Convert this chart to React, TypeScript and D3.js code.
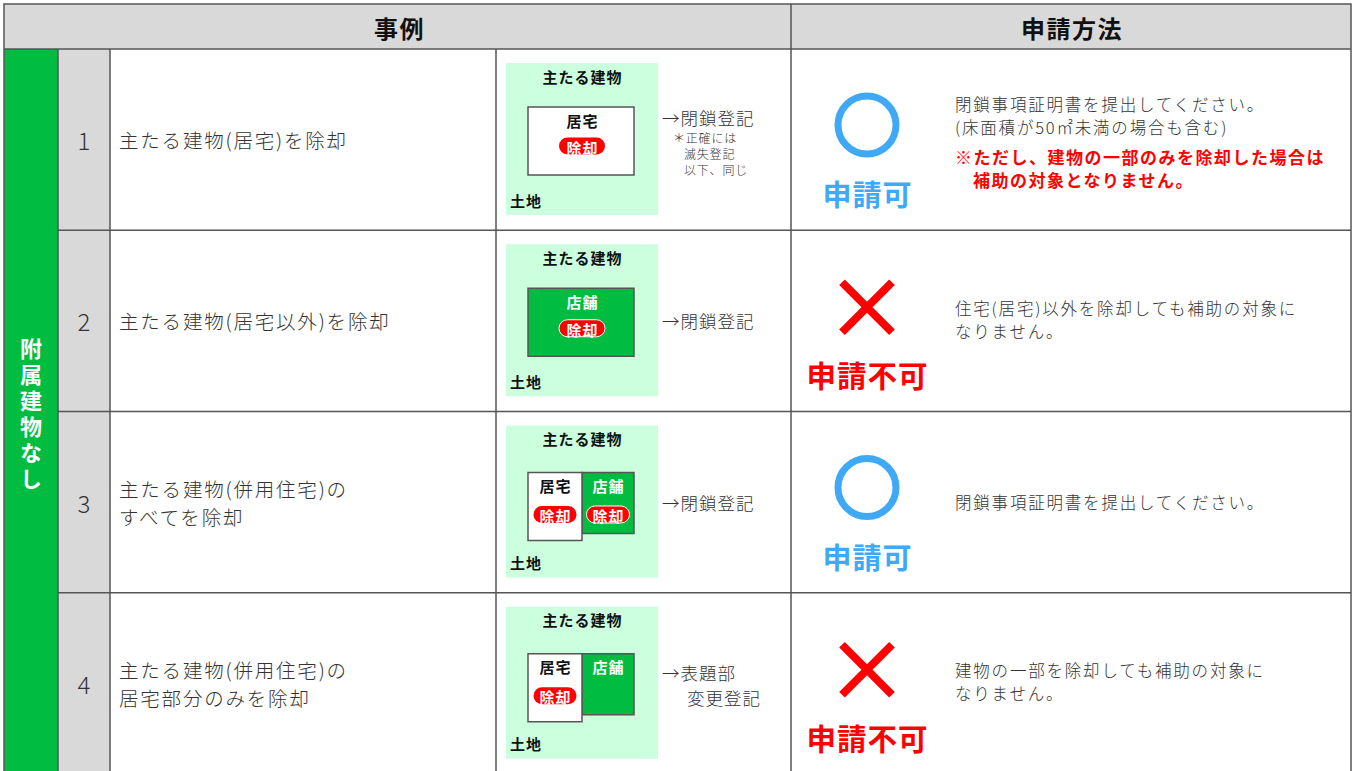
import React from "react";
import * as d3 from "d3";

const headers = ["事例", "申請方法"];
const sideLabel = "附属建物なし";
const caseNumbers = ["1", "2", "3", "4"];
const descriptions = [
  ["主たる建物(居宅)を除却"],
  ["主たる建物(居宅以外)を除却"],
  ["主たる建物(併用住宅)の", "すべてを除却"],
  ["主たる建物(併用住宅)の", "居宅部分のみを除却"],
];
// building layout: "house" = 居宅 only, "shop" = 店舗 only, "mixed" = both
const buildingTypes = ["house", "shop", "mixed", "mixedPartial"];
const registrations = [
  ["→閉鎖登記"],
  ["→閉鎖登記"],
  ["→閉鎖登記"],
  ["→表題部", "変更登記"],
];
const footnote = ["＊正確には", "滅失登記", "以下、同じ"];
const allowed = [true, false, true, false];
const notes = [
  ["閉鎖事項証明書を提出してください。", "(床面積が50㎡未満の場合も含む)"],
  ["住宅(居宅)以外を除却しても補助の対象に", "なりません。"],
  ["閉鎖事項証明書を提出してください。"],
  ["建物の一部を除却しても補助の対象に", "なりません。"],
];
const warning = ["※ただし、建物の一部のみを除却した場合は", "補助の対象となりません。"];

const W = 1356;
const H = 771;
const colEdges = [4, 58, 110, 496, 791, 1351];
const headerTop = 4;
const headerBottom = 49;
const FONT = "'Noto Sans CJK JP', 'Noto Sans', sans-serif";
const GREEN = "#00bd42";
const LIGHT_GREEN = "#ccffdd";
const GRAY = "#d9d9d9";
const BORDER = "#555";
const TEXT = "#333";
const BLUE = "#3fa9f5";
const RED = "#ff0000";

const rowY = d3.scaleLinear().domain([0, 4]).range([headerBottom, 774]);

function Pill({ cx, cy, w, outline }: { cx: number; cy: number; w: number; outline?: boolean }) {
  return (
    <g>
      <rect x={cx - w / 2} y={cy - 8.5} width={w} height={17} rx={8.5} fill={RED}
        stroke={outline ? "#fff" : "none"} strokeWidth={1} />
      <text x={cx + 0.5} y={cy + 1} textAnchor="middle" dominantBaseline="central" fill="#fff"
        fontSize={15} fontWeight={700} letterSpacing={1} fontFamily={FONT}>除却</text>
    </g>
  );
}

function Diagram({ type, top }: { type: string; top: number }) {
  const gx = 506, gw = 152;
  const gy = top + 14, gh = 152;
  const bx = 528, bw = 106, by = top + 58;
  const label = (x: number, y: number, t: string, fill = "#111", anchor = "middle") => (
    <text x={anchor === "middle" ? x + 0.5 : x} y={y} textAnchor={anchor} dominantBaseline="central" fontSize={15}
      fontWeight={700} letterSpacing={1} fill={fill} fontFamily={FONT}>{t}</text>
  );
  return (
    <g>
      <rect x={gx} y={gy} width={gw} height={gh} fill={LIGHT_GREEN} />
      {label(582, gy + 13, "主たる建物")}
      {label(510, gy + 137, "土地", "#111", "start")}
      {type === "house" && (
        <g>
          <rect x={bx} y={by} width={bw} height={68} fill="#fff" stroke={BORDER} strokeWidth={1.5} />
          {label(582, by + 13, "居宅")}
          <Pill cx={582} cy={by + 39} w={46} />
        </g>
      )}
      {type === "shop" && (
        <g>
          <rect x={bx} y={by} width={bw} height={68} fill={GREEN} stroke={BORDER} strokeWidth={1.5} />
          {label(582, by + 13, "店舗", "#fff")}
          <Pill cx={582} cy={by + 40} w={46} outline />
        </g>
      )}
      {(type === "mixed" || type === "mixedPartial") && (
        <g>
          <rect x={582} y={by + 3} width={52} height={61} fill={GREEN} stroke={BORDER} strokeWidth={1.5} />
          <rect x={bx} y={by + 3} width={54} height={68} fill="#fff" stroke={BORDER} strokeWidth={1.5} />
          {label(555, by + 16, "居宅")}
          <Pill cx={555} cy={by + 45} w={43} />
          {label(608, by + 16, "店舗", "#fff")}
          {type === "mixed" && <Pill cx={608} cy={by + 45} w={43} outline />}
        </g>
      )}
    </g>
  );
}

export default function App() {
  const [c0, c1, c2, c3, c4, c5] = colEdges;
  return (
    <svg width={W} height={H} style={{ position: "absolute", left: 0, top: 0, background: "#fff" }}
      fontFamily={FONT}>
      <rect x={0} y={0} width={W} height={H} fill="#fff" />
      {/* header */}
      <rect x={c0} y={headerTop} width={c5 - c0} height={headerBottom - headerTop} fill={GRAY} />
      <text x={(c0 + c4) / 2 + 2} y={(headerTop + headerBottom) / 2 + 1} textAnchor="middle"
        dominantBaseline="central" fontSize={24} fontWeight={700} letterSpacing={1.5} fill="#111">{headers[0]}</text>
      <text x={(c4 + c5) / 2 + 1} y={(headerTop + headerBottom) / 2 + 1} textAnchor="middle"
        dominantBaseline="central" fontSize={24} fontWeight={700} letterSpacing={1.5} fill="#111">{headers[1]}</text>
      {/* side column */}
      <rect x={c0} y={headerBottom} width={c1 - c0} height={H - headerBottom + 10} fill={GREEN} />
      <text x={(c0 + c1) / 2} y={416} textAnchor="middle" fontSize={22} fontWeight={700} fill="#fff"
        letterSpacing={4} style={{ writingMode: "vertical-rl" }}>{sideLabel}</text>
      {/* number column */}
      <rect x={c1} y={headerBottom} width={c2 - c1} height={H - headerBottom + 10} fill={GRAY} />
      {caseNumbers.map((n, i) => {
        const top = rowY(i), bot = rowY(i + 1), mid = (top + bot) / 2;
        const ok = allowed[i];
        return (
          <g key={i}>
            <text x={(c1 + c2) / 2} y={mid} textAnchor="middle" dominantBaseline="central"
              fontSize={24} fontWeight={300} fill={TEXT}>{n}</text>
            {descriptions[i].map((line, j) => (
              <text key={j} x={119} y={mid + (j - (descriptions[i].length - 1) / 2) * 28}
                dominantBaseline="central" fontSize={19.5} fontWeight={300} letterSpacing={1.8}
                fill={TEXT}>{line}</text>
            ))}
            <Diagram type={buildingTypes[i]} top={top} />
            {registrations[i].length === 1 ? (
              <text x={662} y={i === 0 ? top + 68 : mid} dominantBaseline="central" fontSize={17.5}
                fontWeight={300} letterSpacing={1} fill={TEXT}>{registrations[i][0]}</text>
            ) : (
              registrations[i].map((line, j) => (
                <text key={j} x={j === 0 ? 662 : 687} y={top + 80 + j * 25} dominantBaseline="central"
                  fontSize={17.5} fontWeight={300} letterSpacing={1} fill={TEXT}>{line}</text>
              ))
            )}
            {i === 0 && footnote.map((line, j) => (
              <text key={j} x={j === 0 ? 673 : 684} y={top + 88 + j * 16} dominantBaseline="central"
                fontSize={12} fontWeight={300} letterSpacing={0.8} fill={TEXT}>{line}</text>
            ))}
            {/* result */}
            {ok ? (
              <g>
                <circle cx={867} cy={top + 76} r={29} fill="none" stroke={BLUE} strokeWidth={7} />
                <text x={867.5} y={top + 144} textAnchor="middle" dominantBaseline="central" fontSize={29}
                  fontWeight={700} letterSpacing={1} fill={BLUE}>申請可</text>
              </g>
            ) : (
              <g>
                <path d={`M${867 - 25},${top + 52} L${867 + 25},${top + 102} M${867 + 25},${top + 52} L${867 - 25},${top + 102}`}
                  stroke={RED} strokeWidth={8} />
                <text x={867.5} y={top + 144} textAnchor="middle" dominantBaseline="central" fontSize={29.5}
                  fontWeight={700} letterSpacing={1} fill={RED}>申請不可</text>
              </g>
            )}
            {notes[i].map((line, j) => {
              const y0 = i === 0 ? top + 55 : mid - (notes[i].length - 1) * 11 + (i === 2 ? 0 : -2);
              return (
                <text key={j} x={955} y={y0 + j * 23} dominantBaseline="central" fontSize={16.5}
                  fontWeight={300} letterSpacing={1.8} fill={TEXT}>{line}</text>
              );
            })}
            {i === 0 && warning.map((line, j) => (
              <text key={j} x={j === 0 ? 955 : 973} y={top + 107 + j * 23} dominantBaseline="central"
                fontSize={17} fontWeight={700} letterSpacing={1.5} fill={RED}>{line}</text>
            ))}
          </g>
        );
      })}
      {/* grid lines */}
      <g stroke={BORDER} strokeWidth={1.5} fill="none">
        <rect x={c0} y={headerTop} width={c5 - c0} height={H - headerTop + 10} />
        <line x1={c0} x2={c5} y1={headerBottom} y2={headerBottom} />
        {[c1, c2, c3].map((x, i) => (
          <line key={i} x1={x} x2={x} y1={headerBottom} y2={H + 5} />
        ))}
        <line x1={c4} x2={c4} y1={headerTop} y2={H + 5} />
        {[1, 2, 3].map((i) => (
          <line key={i} x1={c1} x2={c5} y1={rowY(i)} y2={rowY(i)} />
        ))}
      </g>
    </svg>
  );
}
